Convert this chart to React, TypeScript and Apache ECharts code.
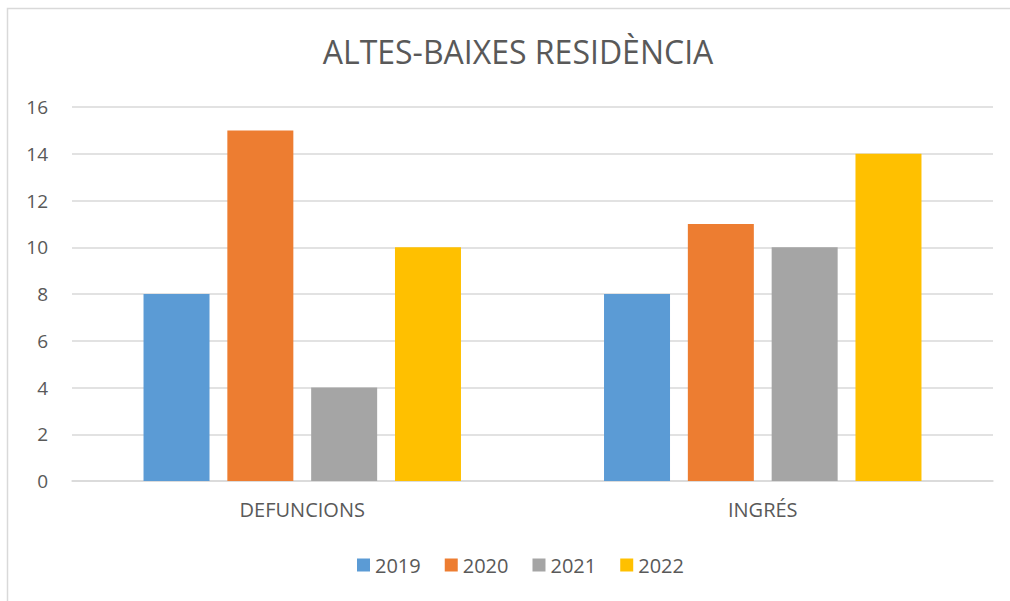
import React, { useEffect, useRef } from "react";
import * as echarts from "echarts";

const categories = ["DEFUNCIONS", "INGRÉS"];
const seriesNames = ["2019", "2020", "2021", "2022"];
const values2019 = [8, 8];
const values2020 = [15, 11];
const values2021 = [4, 10];
const values2022 = [10, 14];
const colors = ["#5B9BD5", "#ED7D31", "#A5A5A5", "#FFC000"];

export default function App() {
  const ref = useRef<HTMLDivElement>(null);
  useEffect(() => {
    if (!ref.current) return;
    const chart = echarts.init(ref.current, null, { renderer: "svg" });
    const data = [values2019, values2020, values2021, values2022];
    const font = "Open Sans";
    chart.setOption({
      animation: false,
      backgroundColor: "#ffffff",
      title: {
        text: "ALTES-BAIXES RESIDÈNCIA",
        left: 513,
        textAlign: "center",
        top: 30,
        textStyle: { color: "#595959", fontSize: 32, fontWeight: "normal", fontFamily: font },
      },
      graphic: [
        {
          type: "rect",
          shape: { x: 7.5, y: 8.5, width: 1100, height: 700 },
          style: { fill: "none", stroke: "#d9d9d9", lineWidth: 1.5 },
          silent: true,
        },
      ],
      legend: {
        bottom: 21,
        left: 352,
        itemWidth: 13,
        itemHeight: 13,
        itemGap: 24,
        icon: "rect",
        textStyle: { color: "#595959", fontSize: 20, fontFamily: font },
        data: seriesNames,
      },
      grid: { left: 72, right: 17, top: 107, bottom: 120 },
      xAxis: {
        type: "category",
        data: categories,
        axisLine: { lineStyle: { color: "#d9d9d9", width: 1.5 } },
        axisTick: { show: false },
        axisLabel: { color: "#595959", fontSize: 20, fontFamily: font, margin: 18 },
      },
      yAxis: {
        type: "value",
        min: 0,
        max: 16,
        interval: 2,
        axisLine: { show: false },
        axisTick: { show: false },
        splitLine: { lineStyle: { color: "#d9d9d9", width: 1.5 } },
        axisLabel: { color: "#595959", fontSize: 19, fontFamily: font, margin: 24 },
      },
      series: seriesNames.map((name, i) => ({
        name,
        type: "bar",
        data: data[i],
        barWidth: 66,
        barGap: "27%",
        itemStyle: { color: colors[i] },
      })),
    });
    return () => chart.dispose();
  }, []);
  return <div ref={ref} style={{ position: "fixed", left: 0, top: 0, width: 1010, height: 601 }} />;
}
